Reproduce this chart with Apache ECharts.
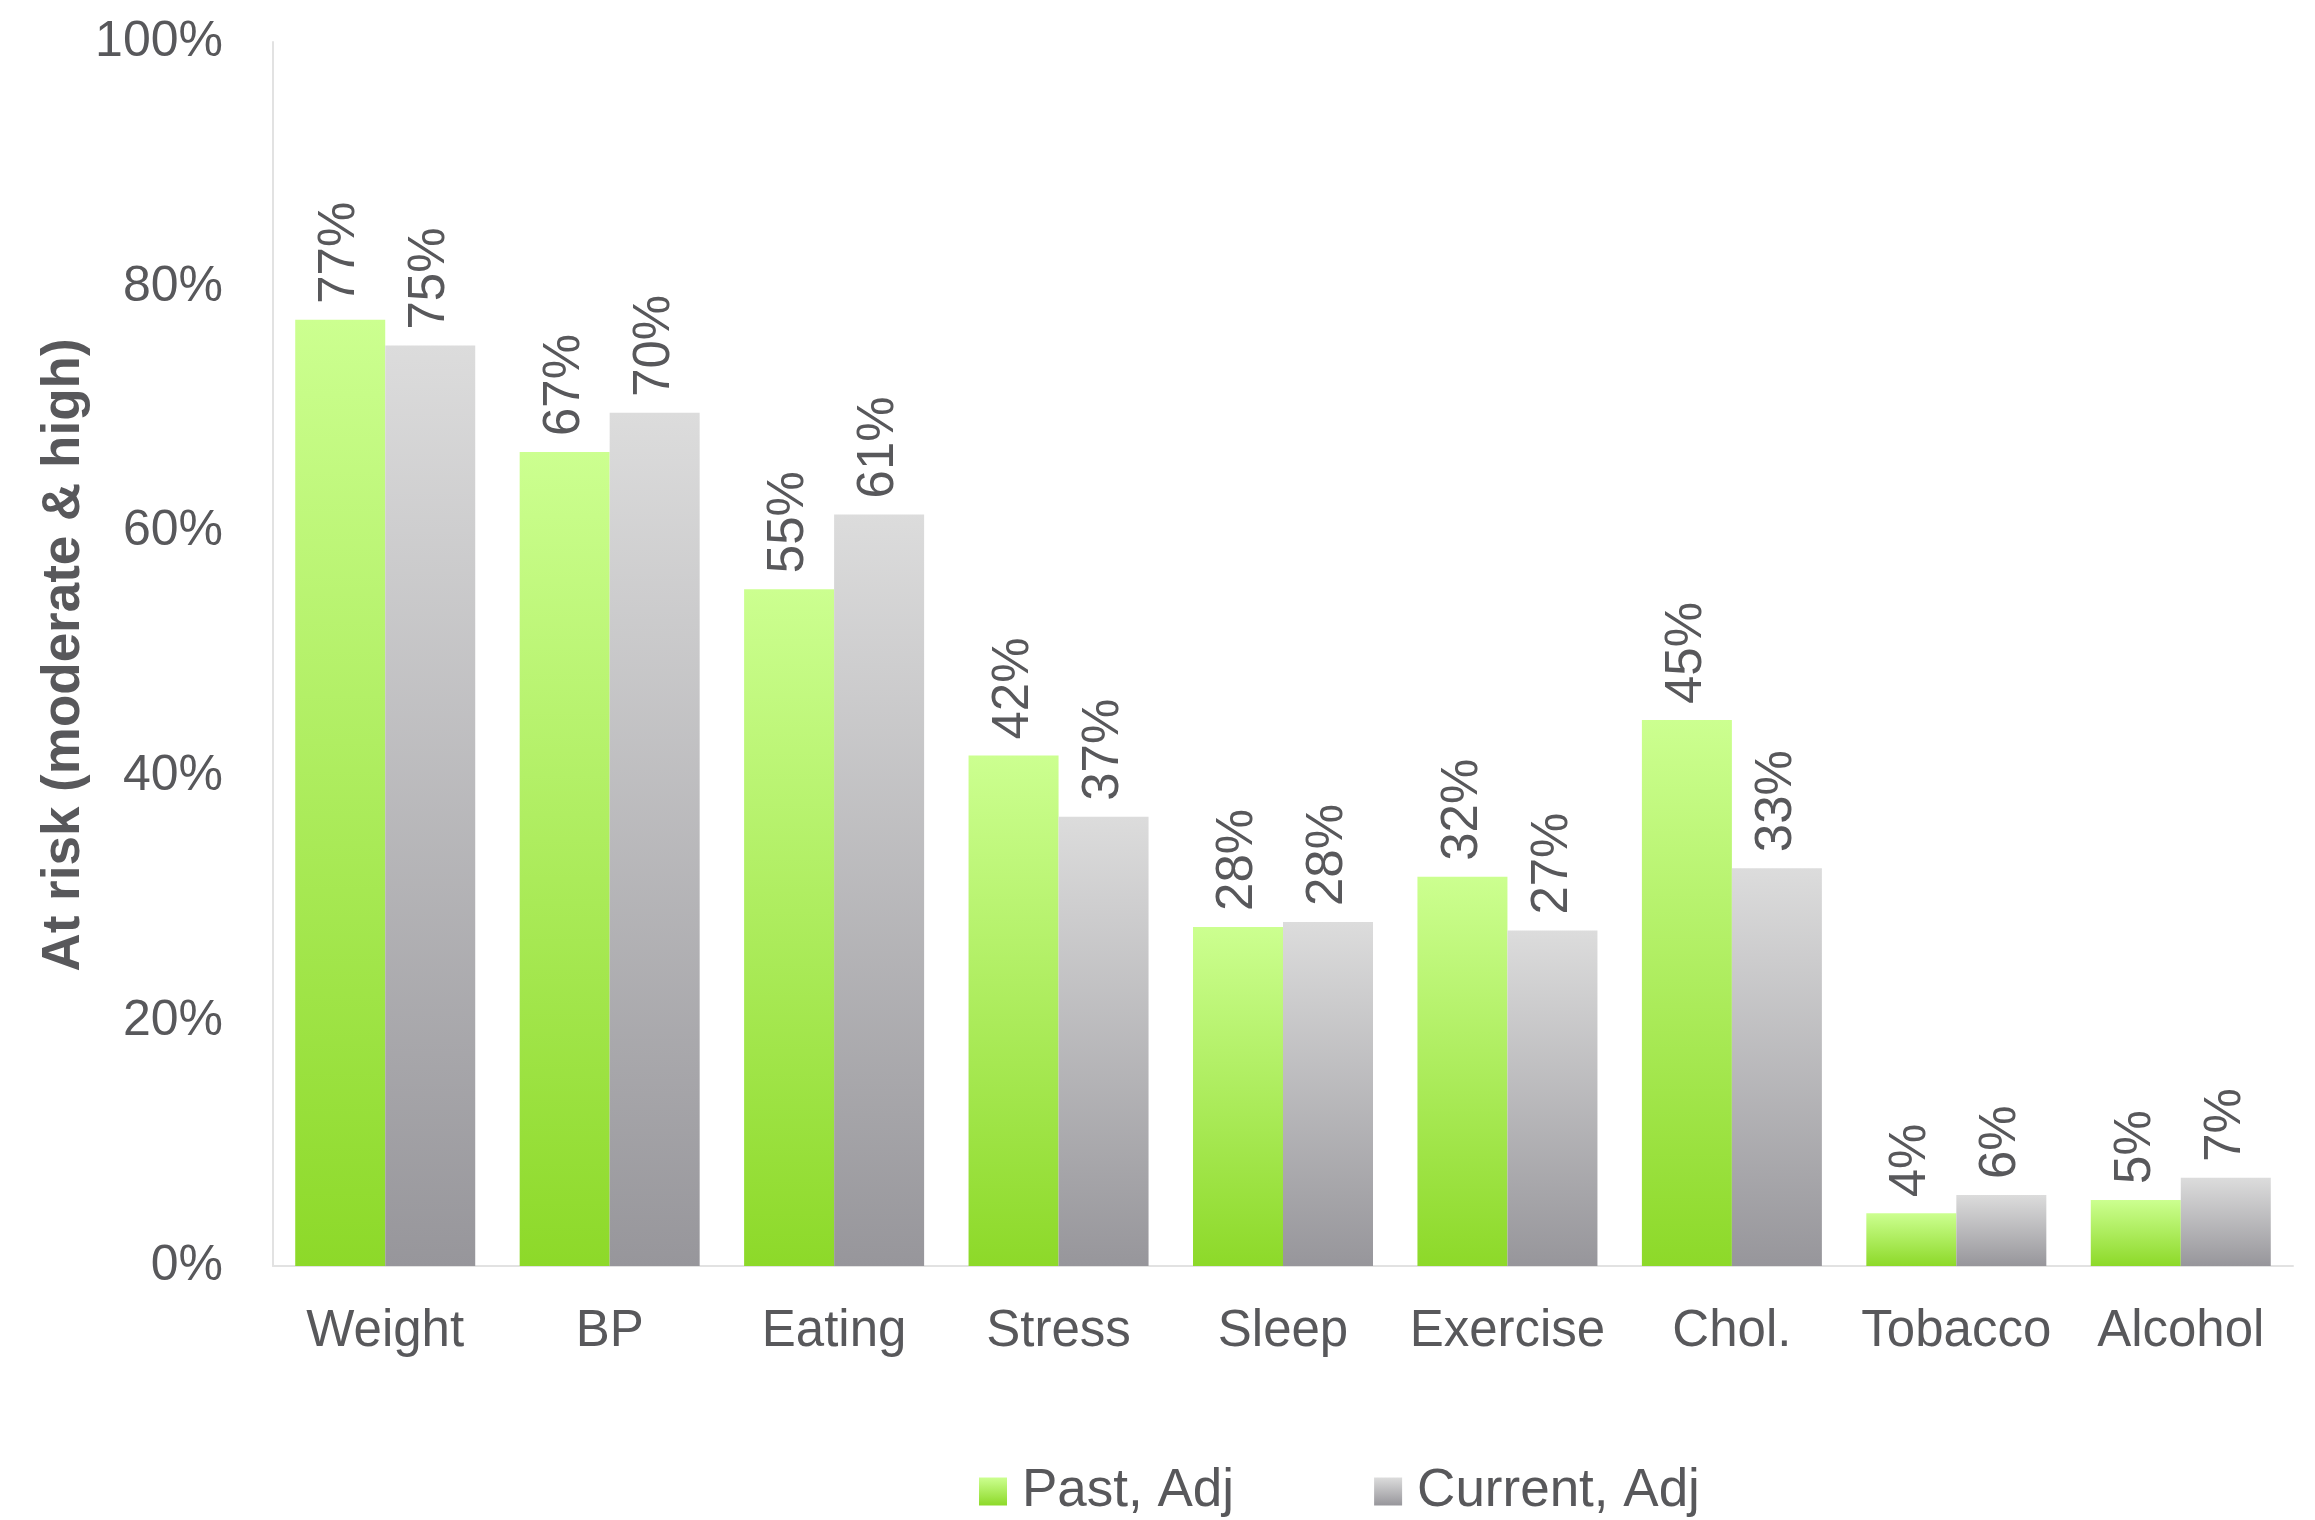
<!DOCTYPE html>
<html>
<head>
<meta charset="utf-8">
<script src="https://cdn.jsdelivr.net/npm/echarts@6/dist/echarts.min.js"></script>
<style>
  html, body { margin: 0; padding: 0; background: #ffffff; }
  #chart { width: 2315px; height: 1520px; }
</style>
</head>
<body>
<div id="chart"></div>
<script>
// Risk factor categories
const categories = ['Weight', 'BP', 'Eating', 'Stress', 'Sleep', 'Exercise', 'Chol.', 'Tobacco', 'Alcohol'];
// Share of people at moderate or high risk
const pastAdj = [0.773, 0.665, 0.553, 0.417, 0.277, 0.318, 0.446, 0.043, 0.054];
const currentAdj = [0.752, 0.697, 0.614, 0.367, 0.281, 0.274, 0.325, 0.058, 0.072];
const seriesNames = ['Past, Adj', 'Current, Adj'];
const yAxisTitle = 'At risk (moderate & high)';

const textColor = '#58585b';
const fontFamily = 'Liberation Sans, Arial, sans-serif';

function vGradient(top, bottom) {
  return new echarts.graphic.LinearGradient(0, 0, 0, 1, [
    { offset: 0, color: top },
    { offset: 1, color: bottom }
  ]);
}

const pct = v => Math.round(v * 100) + '%';

const barLabel = {
  show: true,
  position: 'top',
  rotate: 90,
  align: 'left',
  verticalAlign: 'middle',
  distance: 16,
  formatter: p => pct(p.value),
  color: textColor,
  fontSize: 51,
  fontFamily: fontFamily
};

const chart = echarts.init(document.getElementById('chart'), null, { renderer: 'canvas' });

chart.setOption({
  backgroundColor: '#ffffff',
  animation: false,
  grid: { left: 273, right: 22, top: 42, bottom: 254, containLabel: false },
  legend: {
    data: seriesNames,
    left: 974,
    top: 1460,
    itemWidth: 28,
    itemHeight: 28,
    itemGap: 140,
    icon: 'rect',
    textStyle: {
      color: textColor,
      fontSize: 53,
      fontFamily: fontFamily,
      padding: [0, 0, 0, 10]
    }
  },
  xAxis: {
    type: 'category',
    data: categories,
    axisLine: { show: true, lineStyle: { color: '#e2e2e2', width: 2 } },
    axisTick: { show: false },
    axisLabel: { color: textColor, fontSize: 51, fontFamily: fontFamily, margin: 40, interval: 0 }
  },
  yAxis: {
    type: 'value',
    min: 0,
    max: 1,
    interval: 0.2,
    axisLine: { show: true, lineStyle: { color: '#e2e2e2', width: 2 } },
    axisTick: { show: false },
    splitLine: { show: false },
    axisLabel: {
      color: textColor,
      fontSize: 50,
      fontFamily: fontFamily,
      margin: 50,
      padding: [8, 0, 0, 0],
      formatter: v => Math.round(v * 100) + '%'
    }
  },
  graphic: [{
    type: 'text',
    x: 64,
    y: 655,
    rotation: Math.PI / 2,
    style: {
      text: yAxisTitle,
      fill: textColor,
      font: 'bold 53px ' + fontFamily,
      textAlign: 'center',
      textVerticalAlign: 'middle'
    }
  }],
  series: [
    {
      name: seriesNames[0],
      type: 'bar',
      data: pastAdj,
      barGap: '0%',
      barCategoryGap: '19.8%',
      itemStyle: { color: vGradient('#ccff90', '#8dd929') },
      label: barLabel
    },
    {
      name: seriesNames[1],
      type: 'bar',
      data: currentAdj,
      barGap: '0%',
      barCategoryGap: '19.8%',
      itemStyle: { color: vGradient('#dcdcdc', '#97969b') },
      label: barLabel
    }
  ]
});
</script>
</body>
</html>
